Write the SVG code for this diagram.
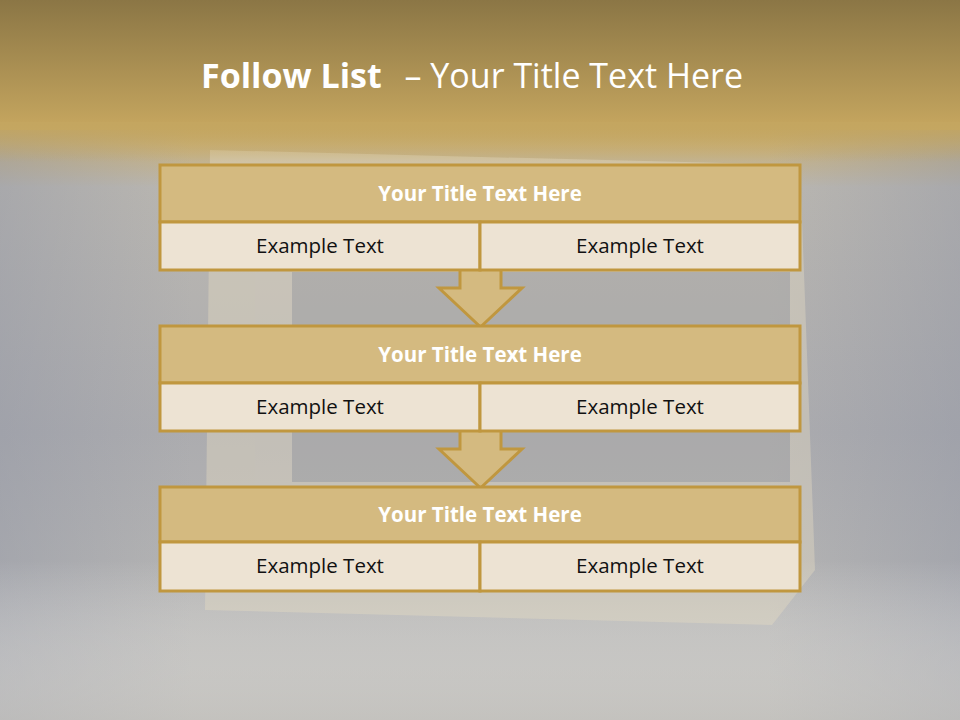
<svg xmlns="http://www.w3.org/2000/svg" width="960" height="720" viewBox="0 0 960 720">
<defs>
<linearGradient id="bg" x1="0" y1="0" x2="0" y2="1">
<stop offset="0" stop-color="#8b7645"/>
<stop offset="0.17" stop-color="#c3a45e"/>
<stop offset="0.2" stop-color="#c8b07a"/>
<stop offset="0.26" stop-color="#bab7b1"/>
<stop offset="0.6" stop-color="#acacaf"/>
<stop offset="1" stop-color="#bdbcb8"/>
</linearGradient>
<linearGradient id="side" x1="0" y1="0" x2="1" y2="0">
<stop offset="0" stop-color="#8e93a3" stop-opacity="0.4"/>
<stop offset="0.2" stop-color="#8e93a3" stop-opacity="0"/>
<stop offset="0.8" stop-color="#8e93a3" stop-opacity="0"/>
<stop offset="1" stop-color="#8e93a3" stop-opacity="0.4"/>
</linearGradient>
<linearGradient id="band" x1="0" y1="0" x2="0" y2="1">
<stop offset="0" stop-color="#c4a660" stop-opacity="1"/>
<stop offset="1" stop-color="#c4a660" stop-opacity="0"/>
</linearGradient>
<linearGradient id="fade" x1="0" y1="0" x2="0" y2="1">
<stop offset="0" stop-color="#ffffff" stop-opacity="0"/>
<stop offset="1" stop-color="#c8c6c2" stop-opacity="0.6"/>
</linearGradient>
</defs>
<style>
.hd{fill:#d4ba80;stroke:#c0973f;stroke-width:3}
.rw{fill:#ede3d3;stroke:#c0973f;stroke-width:3}
.ar{fill:#d4ba80;stroke:#c0973f;stroke-width:3;stroke-linejoin:miter}
.ht{font-family:"Open Sans","Liberation Sans",sans-serif;font-weight:bold;font-size:20.5px;fill:#ffffff;text-anchor:middle}
.et{font-family:"Open Sans","Liberation Sans",sans-serif;font-size:20.5px;fill:#111111;text-anchor:middle}
</style>
<rect width="960" height="720" fill="url(#bg)"/>
<rect x="0" y="130" width="960" height="590" fill="url(#side)"/>
<rect x="0" y="560" width="960" height="160" fill="url(#fade)"/>
<g id="frame" opacity="0.4">
<path d="M210 150 L800 165 L815 570 L772 625 L205 610 Z" fill="#e6dcc4"/>
<rect x="292" y="272" width="498" height="210" fill="#a9a8a6"/>
</g>
<rect x="0" y="122" width="960" height="40" fill="url(#band)"/>
<text x="472" y="88" font-family="'Open Sans','Liberation Sans',sans-serif" font-size="34" fill="#ffffff" text-anchor="middle"><tspan font-weight="bold">Follow List</tspan><tspan dx="14"> – Your Title Text Here</tspan></text>
<g id="connectors">
<path class="ar" d="M460 271 L460 288 L439 288 L480.5 327 L522 288 L501 288 L501 271"/>
<path class="ar" d="M460 432 L460 449 L439 449 L480.5 488 L522 449 L501 449 L501 432"/>
</g>
<g id="block1">
<rect class="hd" x="160" y="165" width="640" height="57"/>
<rect class="rw" x="160" y="222" width="320" height="48"/>
<rect class="rw" x="480" y="222" width="320" height="48"/>
<text class="ht" x="480" y="201">Your Title Text Here</text>
<text class="et" x="320" y="253">Example Text</text>
<text class="et" x="640" y="253">Example Text</text>
</g>
<g id="block2">
<rect class="hd" x="160" y="326" width="640" height="57"/>
<rect class="rw" x="160" y="383" width="320" height="48"/>
<rect class="rw" x="480" y="383" width="320" height="48"/>
<text class="ht" x="480" y="362">Your Title Text Here</text>
<text class="et" x="320" y="414">Example Text</text>
<text class="et" x="640" y="414">Example Text</text>
</g>
<g id="block3">
<rect class="hd" x="160" y="487" width="640" height="55"/>
<rect class="rw" x="160" y="542" width="320" height="49"/>
<rect class="rw" x="480" y="542" width="320" height="49"/>
<text class="ht" x="480" y="522">Your Title Text Here</text>
<text class="et" x="320" y="573">Example Text</text>
<text class="et" x="640" y="573">Example Text</text>
</g>
</svg>
